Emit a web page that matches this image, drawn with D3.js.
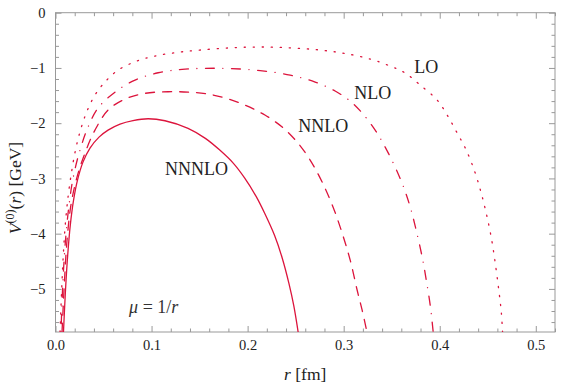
<!DOCTYPE html>
<html>
<head>
<meta charset="utf-8">
<script src="https://cdn.jsdelivr.net/npm/d3@7"></script>
<style>
  body { margin: 0; background: #fff; }
  svg { display: block; }
  text { font-family: "Liberation Serif", "Times New Roman", serif; white-space: pre; }
</style>
</head>
<body>
<div id="chart"></div>
<script>
// static potential V(r) at different orders, mu = 1/r
const orders = ["LO", "NLO", "NNLO", "NNNLO"]

const lo = [[0.0047,-5.78],[0.0064,-5.024],[0.0081,-4.389],[0.0104,-3.792],[0.0133,-3.303],[0.0167,-2.886],
  [0.0208,-2.487],[0.026,-2.125],[0.0328,-1.781],[0.0411,-1.491],[0.0505,-1.274],[0.0638,-1.056],
  [0.0828,-0.888],[0.1036,-0.784],[0.1276,-0.717],[0.1505,-0.676],[0.1818,-0.636],[0.213,-0.621],
  [0.2443,-0.636],[0.2755,-0.676],[0.3016,-0.739],[0.3276,-0.839],[0.3484,-0.966],[0.3641,-1.092],
  [0.3797,-1.31],[0.3974,-1.582],[0.4078,-1.853],[0.4182,-2.179],[0.4276,-2.487],[0.437,-2.904],
  [0.4432,-3.266],[0.4484,-3.629],[0.4536,-4.063],[0.4578,-4.534],[0.4615,-5.024],[0.4641,-5.422],
  [0.4654,-5.78]]

const nlo = [[0.0057,-5.78],[0.0078,-4.84],[0.0104,-4.12],[0.0141,-3.48],[0.0185,-2.976],[0.0255,-2.487],
  [0.0339,-2.07],[0.0443,-1.726],[0.062,-1.437],[0.0828,-1.219],[0.1068,-1.087],[0.1318,-1.025],
  [0.1557,-1.007],[0.1818,-1.011],[0.213,-1.047],[0.2443,-1.129],[0.2703,-1.255],[0.2911,-1.418],
  [0.3068,-1.60],[0.3193,-1.817],[0.3328,-2.125],[0.3432,-2.433],[0.3536,-2.795],[0.362,-3.14],
  [0.3693,-3.52],[0.3755,-3.937],[0.3818,-4.43],[0.386,-4.84],[0.3901,-5.295],[0.3932,-5.78]]

const nnlo = [[0.0068,-5.78],[0.0094,-4.84],[0.012,-4.12],[0.0161,-3.48],[0.0224,-2.976],[0.0307,-2.54],
  [0.0411,-2.125],[0.0547,-1.763],[0.0724,-1.563],[0.0932,-1.46],[0.1172,-1.431],[0.138,-1.437],
  [0.156,-1.464],[0.1766,-1.545],[0.197,-1.672],[0.218,-1.853],[0.236,-2.07],[0.2516,-2.342],
  [0.2651,-2.668],[0.2776,-3.067],[0.289,-3.52],[0.2984,-3.99],[0.3068,-4.48],[0.314,-5.02],
  [0.3193,-5.39],[0.3242,-5.78]]

const nnnlo = [[0.0083,-5.78],[0.0104,-5.024],[0.0127,-4.389],[0.0154,-3.846],[0.0188,-3.393],[0.0229,-3.031],
  [0.0286,-2.705],[0.0359,-2.451],[0.0453,-2.252],[0.0547,-2.125],[0.0672,-2.016],[0.0807,-1.953],
  [0.0964,-1.92],[0.114,-1.956],[0.138,-2.094],[0.156,-2.275],[0.171,-2.487],[0.185,-2.723],
  [0.197,-2.995],[0.209,-3.33],[0.218,-3.64],[0.228,-4.03],[0.236,-4.44],[0.243,-4.90],
  [0.248,-5.30],[0.2526,-5.78]]

// where the order labels sit (r, V)
const labelPos = [[0.3735,-1.09],[0.3110,-1.563],[0.2526,-2.161],[0.1141,-2.94]]

const xMajor = [0, 0.1, 0.2, 0.3, 0.4, 0.5]
const yMajor = [0, -1, -2, -3, -4, -5]

const width = 581
const height = 386
const mLeft = 55.5, mRight = 555, mTop = 12.7, mBottom = 332

const svg = d3.select('#chart').append('svg')
    .attr('width', width)
    .attr('height', height)
    .attr('viewBox', `0 0 ${width} ${height}`)

const x = d3.scaleLinear().domain([0, 0.52]).range([mLeft, mRight])
const y = d3.scaleLinear().domain([-5.78, 0]).range([mBottom, mTop])

const xMinor = d3.range(0, 0.521, 0.02).filter(v => Math.abs(v * 10 - Math.round(v * 10)) > 1e-6)
const yMinor = d3.range(0, -5.79, -0.2).filter(v => Math.abs(v - Math.round(v)) > 1e-6)

const frameColor = '#999'
const lineColor = '#dc143c'

// frame with inward ticks on all four sides
const styleAxis = g => g
    .call(g => g.select('.domain').remove())
    .call(g => g.selectAll('.tick line').attr('stroke', frameColor))
    .call(g => g.selectAll('.tick text')
        .attr('fill', '#222')
        .attr('font-size', 14.5)
        .attr('font-family', '"Liberation Serif", serif'))

svg.append('g').attr('transform', `translate(0,${mBottom})`)
    .call(d3.axisBottom(x).tickValues(xMajor).tickSize(-6).tickPadding(8).tickFormat(d3.format('.1f')))
    .call(styleAxis)
svg.append('g').attr('transform', `translate(0,${mBottom})`)
    .call(d3.axisBottom(x).tickValues(xMinor).tickSize(-3.5).tickFormat(''))
    .call(styleAxis)
svg.append('g').attr('transform', `translate(0,${mTop})`)
    .call(d3.axisTop(x).tickValues(xMajor).tickSize(-6).tickFormat(''))
    .call(styleAxis)
svg.append('g').attr('transform', `translate(0,${mTop})`)
    .call(d3.axisTop(x).tickValues(xMinor).tickSize(-3.5).tickFormat(''))
    .call(styleAxis)

svg.append('g').attr('transform', `translate(${mLeft},0)`)
    .call(d3.axisLeft(y).tickValues(yMajor).tickSize(-6).tickPadding(10).tickFormat(d3.format('d')))
    .call(styleAxis)
svg.append('g').attr('transform', `translate(${mLeft},0)`)
    .call(d3.axisLeft(y).tickValues(yMinor).tickSize(-3.5).tickFormat(''))
    .call(styleAxis)
svg.append('g').attr('transform', `translate(${mRight},0)`)
    .call(d3.axisRight(y).tickValues(yMajor).tickSize(-6).tickFormat(''))
    .call(styleAxis)
svg.append('g').attr('transform', `translate(${mRight},0)`)
    .call(d3.axisRight(y).tickValues(yMinor).tickSize(-3.5).tickFormat(''))
    .call(styleAxis)

svg.append('rect')
    .attr('x', mLeft).attr('y', mTop)
    .attr('width', mRight - mLeft).attr('height', mBottom - mTop)
    .attr('fill', 'none')
    .attr('stroke', frameColor)
    .attr('stroke-width', 1)

// curves
svg.append('clipPath').attr('id', 'plot-clip')
    .append('rect')
    .attr('x', mLeft).attr('y', mTop)
    .attr('width', mRight - mLeft).attr('height', mBottom - mTop)

const line = d3.line()
    .x(d => x(d[0]))
    .y(d => y(d[1]))
    .curve(d3.curveCatmullRom.alpha(0.5))

const series = [lo, nlo, nnlo, nnnlo]
// dotted, dot-dashed, dashed, solid
const dashes = ['1.2,7.8', '0.1,8.5,9,8.5', '9,8', null]

const plot = svg.append('g').attr('clip-path', 'url(#plot-clip)')
for (let i = 0; i < series.length; i++) {
    plot.append('path')
        .attr('fill', 'none')
        .attr('stroke', lineColor)
        .attr('stroke-width', 1.3)
        .attr('stroke-linecap', dashes[i] ? 'round' : 'butt')
        .attr('stroke-dasharray', dashes[i])
        .attr('d', line(series[i]))
}

// order labels
for (let i = 0; i < orders.length; i++) {
    svg.append('text')
        .attr('x', x(labelPos[i][0]))
        .attr('y', y(labelPos[i][1]))
        .attr('font-size', 18)
        .attr('fill', '#222')
        .text(orders[i])
}

// mu = 1/r
const mu = svg.append('text')
    .attr('x', x(0.0766))
    .attr('y', y(-5.43))
    .attr('font-size', 18)
    .attr('fill', '#333')
mu.append('tspan').attr('font-style', 'italic').text('μ')
mu.append('tspan').text(' = 1/')
mu.append('tspan').attr('font-style', 'italic').text('r')

// axis titles
const xt = svg.append('text')
    .attr('x', (mLeft + mRight) / 2)
    .attr('y', 380)
    .attr('text-anchor', 'middle')
    .attr('font-size', 17.5)
    .attr('fill', '#222')
xt.append('tspan').attr('font-style', 'italic').text('r')
xt.append('tspan').text(' [fm]')

const yt = svg.append('text')
    .attr('transform', `translate(21,188) rotate(-90)`)
    .attr('text-anchor', 'middle')
    .attr('font-size', 17.5)
    .attr('fill', '#222')
yt.append('tspan').attr('font-style', 'italic').text('V')
yt.append('tspan').attr('font-size', 12).attr('dy', -7).text('(0)')
yt.append('tspan').attr('dy', 7).text('(')
yt.append('tspan').attr('font-style', 'italic').text('r')
yt.append('tspan').text(') [GeV]')
</script>
</body>
</html>
